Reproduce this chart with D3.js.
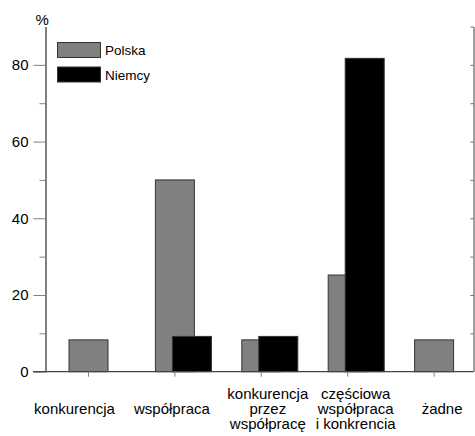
<!DOCTYPE html>
<html>
<head>
<meta charset="utf-8">
<script src="https://cdn.jsdelivr.net/npm/d3@7/dist/d3.min.js"></script>
<style>
  html, body { margin: 0; padding: 0; background: #fff; }
  svg { display: block; font-family: "Liberation Sans", Arial, sans-serif; }
</style>
</head>
<body>
<svg id="chart" width="475" height="436"></svg>
<script>
// ---- data ----
const categories = ["konkurencja", "współpraca", "konkurencja przez współpracę", "częściowa współpraca i konkrencia", "żadne"];
const categoryLines = [["konkurencja"], ["współpraca"], ["konkurencja", "przez", "współpracę"], ["częściowa", "współpraca", "i konkrencia"], ["żadne"]];
const seriesNames = ["Polska", "Niemcy"];
const polska = [8.3, 50, 8.3, 25.2, 8.3];
const niemcy = [0, 9.2, 9.2, 81.7, 0];
const majorTicks = [0, 20, 40, 60, 80];
const minorTicks = [10, 30, 50, 70];
const rightTicks = [10, 20, 30, 40, 50, 60, 70, 80, 90];

// ---- layout ----
const svg = d3.select("#chart");
const y = d3.scaleLinear().domain([0, 90]).range([371.7, 26.5]);
const x = d3.scaleBand().domain(categories).range([45.3, 477.3]).padding(0);
const barW = 39;
const colors = { Polska: "#808080", Niemcy: "#000000" };
const axisX = 45.5, rightX = 473.5, baseY = 371.7;
const labelShift = [-14, -3, 6.5, 8, 8];

const center = c => x(c) + x.bandwidth() / 2;

// bars
const series = [
  { name: "Polska", values: polska, off: -19.5 },
  { name: "Niemcy", values: niemcy, off: -2.5 }
];
series.forEach(s => {
  svg.append("g").selectAll("rect")
    .data(categories.map((c, i) => ({ c, v: s.values[i] })).filter(d => d.v > 0))
    .join("rect")
    .attr("x", d => center(d.c) + s.off)
    .attr("y", d => y(d.v))
    .attr("width", barW)
    .attr("height", d => y(0) - y(d.v))
    .attr("fill", colors[s.name])
    .attr("stroke", "#333")
    .attr("stroke-width", 1);
});

// left axis (major)
const gL = svg.append("g").attr("transform", `translate(${axisX},0)`)
  .call(d3.axisLeft(y).tickValues(majorTicks).tickSize(12).tickSizeOuter(0).tickPadding(5));
gL.select(".domain").attr("stroke", "#000");
gL.selectAll(".tick line").attr("stroke", "#808080").attr("stroke-width", 1);
gL.selectAll(".tick text").attr("font-size", 15).attr("fill", "#000")
  .attr("font-family", "Liberation Sans, Arial, sans-serif");
// minor
const gLm = svg.append("g").attr("transform", `translate(${axisX},0)`)
  .call(d3.axisLeft(y).tickValues(minorTicks).tickSize(6).tickSizeOuter(0).tickFormat(""));
gLm.select(".domain").remove();
gLm.selectAll(".tick line").attr("stroke", "#808080");

// right axis
const gR = svg.append("g").attr("transform", `translate(${rightX},0)`)
  .call(d3.axisLeft(y).tickValues(rightTicks).tickSize(3).tickSizeOuter(0).tickFormat(""));
gR.select(".domain").attr("stroke", "#444");
gR.selectAll(".tick line").attr("stroke", "#666");

// x axis
svg.append("line").attr("x1", 33).attr("x2", rightX).attr("y1", baseY).attr("y2", baseY)
  .attr("stroke", "#444").attr("stroke-width", 1.2);
const gX = svg.append("g").attr("transform", `translate(0,${baseY})`)
  .call(d3.axisBottom(x).tickSize(5).tickSizeOuter(0).tickFormat(""));
gX.select(".domain").remove();
gX.selectAll(".tick line").attr("stroke", "#808080");

// category labels
categories.forEach((c, i) => {
  const lines = categoryLines[i];
  const first = 413.5 - (lines.length - 1) / 2 * 15;
  const t = svg.append("text").attr("text-anchor", "middle").attr("font-size", 15).attr("fill", "#000");
  lines.forEach((ln, k) => {
    t.append("tspan").attr("x", center(c) + labelShift[i]).attr("y", first + k * 15).text(ln);
  });
});

// % label
svg.append("text").attr("x", 35.5).attr("y", 25).attr("font-size", 15).text("%");

// legend
seriesNames.forEach((n, i) => {
  const ly = 42.5 + i * 24.5;
  svg.append("rect").attr("x", 57.5).attr("y", ly).attr("width", 43).attr("height", 15)
    .attr("fill", colors[n]).attr("stroke", "#333");
  svg.append("text").attr("x", 105).attr("y", ly + 12.5).attr("font-size", 13.5).text(n);
});
</script>
</body>
</html>
